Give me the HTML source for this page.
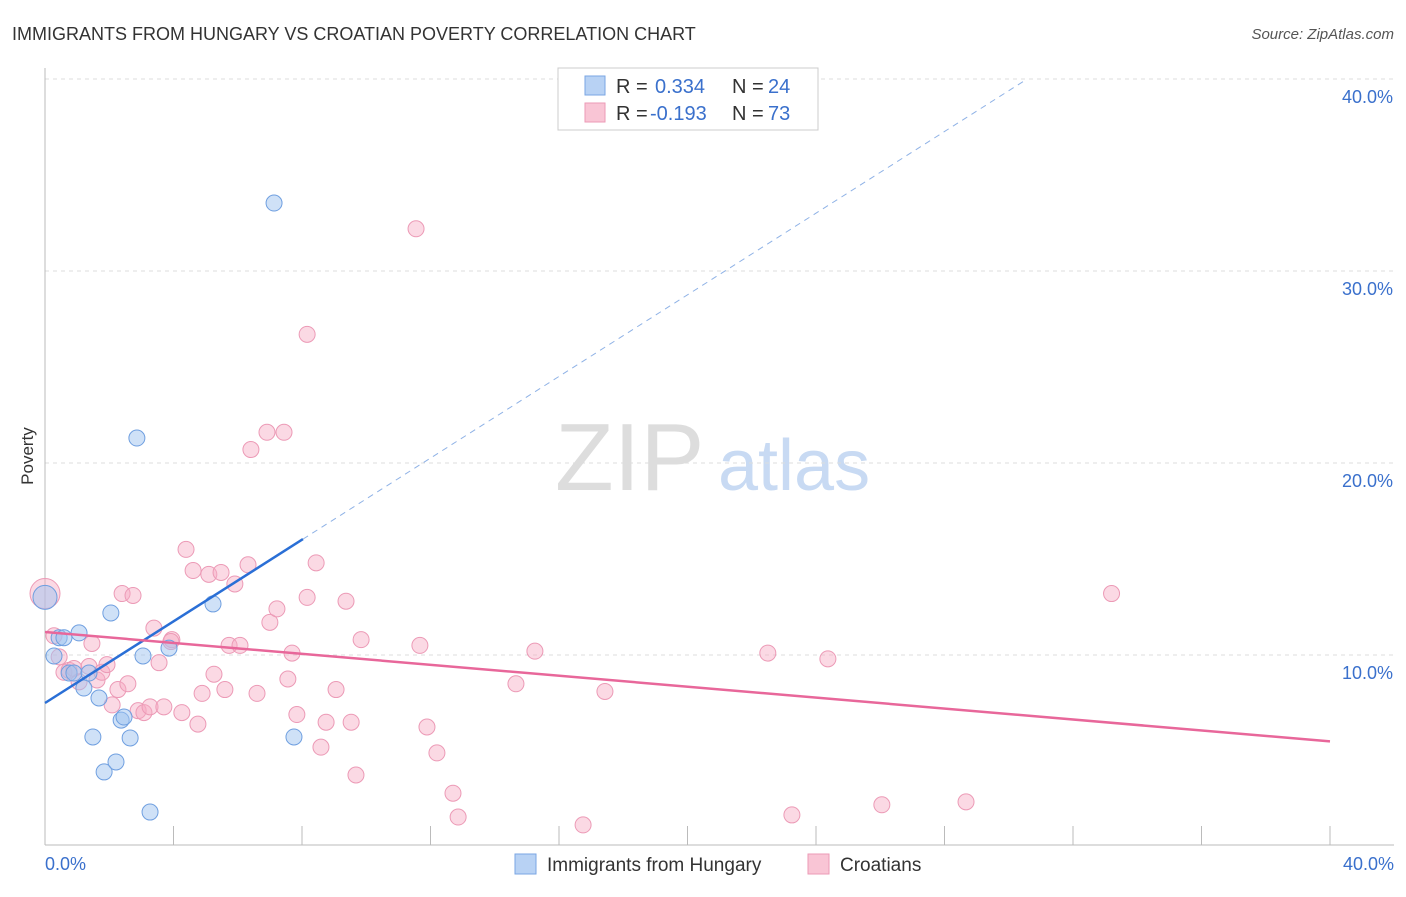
<!DOCTYPE html>
<html><head><meta charset="utf-8"><style>
body{margin:0;background:#fff;font-family:"Liberation Sans",sans-serif}
svg text{font-family:"Liberation Sans",sans-serif}
</style></head><body>
<svg id="chart" width="1406" height="892">
<text x="12" y="40" font-size="18" fill="#333">IMMIGRANTS FROM HUNGARY VS CROATIAN POVERTY CORRELATION CHART</text>
<text x="1394" y="39" font-size="15" fill="#555" font-style="italic" text-anchor="end">Source: ZipAtlas.com</text>
<text x="33" y="456" font-size="17" fill="#333" transform="rotate(-90 33 456)" text-anchor="middle">Poverty</text>
<text x="555" y="490" font-size="96" fill="#ddd" font-family="Liberation Serif">ZIP</text>
<text x="718" y="490" font-size="72" fill="#c8daf3">atlas</text>
<g id="grid"></g><g id="marks"></g>
<g>
<rect x="558" y="68" width="260" height="62" fill="#fff" stroke="#ccc"/>
<rect x="585" y="76" width="20" height="19" fill="#b8d2f4" stroke="#7aa6e3"/>
<rect x="585" y="103" width="20" height="19" fill="#f9c5d5" stroke="#ec9ab6"/>
<text x="616" y="93" font-size="20" fill="#333">R = </text><text x="655" y="93" font-size="20" fill="#3a70cc">0.334</text>
<text x="732" y="93" font-size="20" fill="#333">N = </text><text x="768" y="93" font-size="20" fill="#3a70cc">24</text>
<text x="616" y="120" font-size="20" fill="#333">R = </text><text x="650" y="120" font-size="20" fill="#3a70cc">-0.193</text>
<text x="732" y="120" font-size="20" fill="#333">N = </text><text x="768" y="120" font-size="20" fill="#3a70cc">73</text>
</g>
<g>
<rect x="515" y="854" width="21" height="20" fill="#b8d2f4" stroke="#7aa6e3"/>
<text x="547" y="871" font-size="19" fill="#333">Immigrants from Hungary</text>
<rect x="808" y="854" width="21" height="20" fill="#f9c5d5" stroke="#ec9ab6"/>
<text x="840" y="871" font-size="19" fill="#333">Croatians</text>
</g>
</svg>
<script>
const yTicks=[10,20,30,40];
const xTickLabels=["0.0%","40.0%"];
const blueX=[0,0.28,0.44,0.59,0.75,0.9,1.06,1.21,1.37,1.68,2.05,1.49,1.84,2.21,2.37,2.46,2.65,2.86,3.05,3.27,3.86,5.23,7.13,7.75];
const blueY=[13.0,9.95,10.9,10.9,9.06,9.06,11.15,8.28,9.06,7.76,12.19,5.73,3.91,4.43,6.61,6.77,5.68,21.3,9.95,1.82,10.36,12.66,33.54,5.73];
const pinkX=[0,0.28,0.44,0.59,0.75,0.9,1.06,1.37,1.46,1.62,1.77,1.93,2.09,2.27,2.4,2.58,2.74,2.9,3.08,3.27,3.39,3.55,3.7,3.95,3.92,4.26,4.39,4.61,4.76,4.89,5.1,5.26,5.48,5.6,5.73,5.91,6.07,6.32,6.41,6.6,6.91,7.0,7.22,7.44,7.56,7.69,7.84,8.16,8.16,8.44,8.59,8.75,9.06,9.37,9.53,9.68,9.84,11.55,11.67,11.89,12.2,12.7,12.86,14.66,15.25,16.75,17.43,22.5,23.25,24.37,26.05,28.67,33.2];
const pinkY=[13.2,11.0,9.9,9.1,9.2,9.3,8.6,9.4,10.6,8.7,9.1,9.5,7.4,8.2,13.2,8.5,13.1,7.1,7.0,7.3,11.4,9.6,7.3,10.8,10.7,7.0,15.5,14.4,6.4,8.0,14.2,9.0,14.3,8.2,10.5,13.7,10.5,14.7,20.7,8.0,21.6,11.7,12.4,21.6,8.75,10.1,6.9,13.0,26.7,14.8,5.2,6.5,8.2,12.8,6.5,3.75,10.8,32.2,10.5,6.25,4.9,2.8,1.56,8.5,10.2,1.15,8.1,10.1,1.67,9.8,2.2,2.35,13.2];
const blueTrend=[7.5,1.063];
const blueSolidEnd=8.03;
const pinkTrend=[11.2,-0.1425];
const sx=v=>45+v*32.125, sy=v=>847-v*19.2;
const NS="http://www.w3.org/2000/svg";
function mk(t,a,p){const e=document.createElementNS(NS,t);for(const k in a)e.setAttribute(k,a[k]);p.appendChild(e);return e;}
const grid=document.getElementById('grid'),marks=document.getElementById('marks');
yTicks.forEach(t=>{
 const l=mk('line',{x1:45,x2:1394,y1:sy(t),y2:sy(t),stroke:'#ddd','stroke-dasharray':'4,4'},grid);
 
 
 const tx=mk('text',{x:1393,y:sy(t)+24,'font-size':18,fill:'#3a70cc','text-anchor':'end'},grid);tx.textContent=t.toFixed(1)+'%';
 
 
});
mk('line',{x1:45,x2:45,y1:68,y2:845,stroke:'#bbb'},grid);
mk('line',{x1:45,x2:1394,y1:845,y2:845,stroke:'#bbb'},grid);
for(let i=0;i<=10;i++){mk('line',{x1:sx(i*4),x2:sx(i*4),y1:826,y2:845,stroke:'#bbb'},grid);}
xTickLabels.forEach((s,i)=>{const tx=mk('text',{x:i?1394:45,y:870,'font-size':18,fill:'#3a70cc','text-anchor':i?'end':'start'},grid);tx.textContent=s;
 
 });
pinkX.forEach((x,i)=>{const c=mk('circle',{cx:sx(x),cy:sy(pinkY[i]),r:i==0?15:8,fill:'rgba(246,170,195,0.45)',stroke:'#ec9ab6','stroke-width':1},marks);
 
 });
blueX.forEach((x,i)=>{const c=mk('circle',{cx:sx(x),cy:sy(blueY[i]),r:i==0?12:8,fill:'rgba(160,195,240,0.5)',stroke:'#6f9fe0','stroke-width':1},marks);
 
 });
const bx=blueSolidEnd;
let l=mk('line',{x1:sx(0),y1:sy(blueTrend[0]),x2:sx(bx),y2:sy(blueTrend[0]+blueTrend[1]*bx),stroke:'#2a6fd6','stroke-width':2.5},marks);


const xe=(40-blueTrend[0])/blueTrend[1];
l=mk('line',{x1:sx(bx),y1:sy(blueTrend[0]+blueTrend[1]*bx),x2:sx(xe),y2:sy(40),stroke:'#8fb2e6','stroke-width':1,'stroke-dasharray':'6,5'},marks);


l=mk('line',{x1:sx(0),y1:sy(pinkTrend[0]),x2:sx(40),y2:sy(pinkTrend[0]+pinkTrend[1]*40),stroke:'#e8679a','stroke-width':2.5},marks);


</script>
</body></html>
